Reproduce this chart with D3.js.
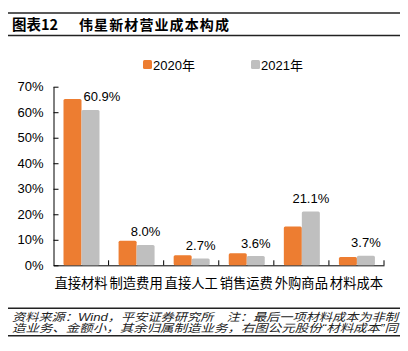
<!DOCTYPE html>
<html lang="zh">
<head>
    <meta charset="UTF-8">
    <title>伟星新材营业成本构成</title>
    <script src="https://d3js.org/d3.v7.min.js"></script>
    <style>
        body {
            margin: 0;
            background: #fff;
            font-family: "Liberation Sans", Arial, "Noto Sans CJK SC", sans-serif;
        }
        svg text {
            fill: #000;
        }
        .axis path, .axis line {
            stroke: #000;
            stroke-width: 1;
        }
        .axis text {
            font-size: 13px;
            font-family: "Liberation Sans", Arial, "Noto Sans CJK SC", sans-serif;
        }
        .note {
            font-size: 11px;
            font-style: italic;
        }
    </style>
</head>
<body>
    <svg width="408" height="351"></svg>
    <script>
        // 数据
        const categories = ["直接材料", "制造费用", "直接人工", "销售运费", "外购商品", "材料成本"];
        const series = ["2020年", "2021年"];
        const values2020 = [65.2, 9.6, 3.9, 4.7, 15.2, 3.3];
        const values2021 = [60.9, 8.0, 2.7, 3.6, 21.1, 3.7];
        const yTicks = [0, 10, 20, 30, 40, 50, 60, 70];
        const colors = ["#ED7D31", "#BFBFBF"];

        const data = categories.map((c, i) => ({
            cat: c,
            vals: [values2020[i], values2021[i]]
        }));

        const svg = d3.select("svg");

        // 标题
        svg.append("line").attr("x1", 8).attr("x2", 400).attr("y1", 13).attr("y2", 13)
            .attr("stroke", "#222").attr("stroke-width", 1.5);
        svg.append("line").attr("x1", 8).attr("x2", 400).attr("y1", 35.5).attr("y2", 35.5)
            .attr("stroke", "#222").attr("stroke-width", 1.5);
        svg.append("text")
            .attr("x", 12).attr("y", 30)
            .style("font-size", "14.5px").style("font-weight", "bold")
            .style("font-family", "'Noto Sans CJK SC', sans-serif")
            .text("图表12");
        svg.append("text")
            .attr("x", 79).attr("y", 30)
            .style("font-size", "14px").style("font-weight", "bold")
            .style("letter-spacing", "1.1px")
            .style("font-family", "'Noto Sans CJK SC', sans-serif")
            .text("伟星新材营业成本构成");

        // 绘图区
        const plotLeft = 53.5, plotRight = 384, plotTop = 86.7, plotBottom = 265.3;

        const y = d3.scaleLinear().domain([0, 70]).range([plotBottom, plotTop]);
        const x0 = d3.scaleBand().domain(categories).range([plotLeft, plotRight]);
        const x1 = d3.scaleBand().domain(series).range([10, 46]);

        // y 轴
        svg.append("g")
            .attr("class", "axis")
            .attr("transform", `translate(${plotLeft},0)`)
            .call(d3.axisLeft(y)
                .tickValues(yTicks)
                .tickFormat(d => d + "%")
                .tickSizeInner(-5)
                .tickSizeOuter(0)
                .tickPadding(10));

        // x 轴
        const xAxis = svg.append("g")
            .attr("class", "axis")
            .attr("transform", `translate(0,${plotBottom})`)
            .call(d3.axisBottom(x0).tickSize(0).tickPadding(13));
        xAxis.selectAll(".tick text")
            .style("font-family", "'Noto Sans CJK SC', sans-serif")
            .style("font-size", "13.3px");
        xAxis.selectAll(".boundary")
            .data(categories)
            .enter()
            .append("line")
            .attr("class", "boundary")
            .attr("x1", d => x0(d) + x0.bandwidth())
            .attr("x2", d => x0(d) + x0.bandwidth())
            .attr("y1", 0).attr("y2", -5);

        // 柱子
        const groups = svg.selectAll(".grp")
            .data(data)
            .enter()
            .append("g")
            .attr("class", "grp")
            .attr("transform", d => `translate(${x0(d.cat)},0)`);

        groups.selectAll("rect")
            .data(d => d.vals.map((v, i) => ({ s: series[i], v: v, i: i })))
            .enter()
            .append("rect")
            .attr("x", d => x1(d.s))
            .attr("y", d => y(d.v))
            .attr("width", x1.bandwidth())
            .attr("height", d => plotBottom - y(d.v))
            .attr("rx", 1.5)
            .attr("fill", d => colors[d.i]);

        // 数据标签 (2021年)
        groups.append("text")
            .attr("class", "vlabel")
            .style("font-size", "13px")
            .attr("text-anchor", "middle")
            .attr("y", d => y(d.vals[1]) - 8.5)
            .text(d => d.vals[1].toFixed(1) + "%")
            .attr("x", function(d) {
                let cx = x1(series[1]) + x1.bandwidth() / 2;
                const w = this.getComputedTextLength();
                const labelBottom = y(d.vals[1]) - 8.5;
                // 避开2020年柱子
                if (labelBottom > y(d.vals[0])) {
                    const orangeRight = x1(series[0]) + x1.bandwidth();
                    cx = Math.max(cx, orangeRight + 2 + w / 2);
                }
                return cx;
            });

        // 图例
        const legend = svg.selectAll(".legend")
            .data(series)
            .enter()
            .append("g")
            .attr("class", "legend")
            .attr("transform", (d, i) => `translate(${143 + i * 108},60)`);
        legend.append("rect")
            .attr("width", 9).attr("height", 9).attr("rx", 1.5)
            .attr("fill", (d, i) => colors[i]);
        legend.append("text")
            .attr("x", 10).attr("y", 9.5)
            .style("font-size", "13px")
            .text(d => d);

        // 注释
        svg.append("line").attr("x1", 8).attr("x2", 400).attr("y1", 308.3).attr("y2", 308.3)
            .attr("stroke", "#222").attr("stroke-width", 1.5);
        svg.append("line").attr("x1", 8).attr("x2", 400).attr("y1", 335.8).attr("y2", 335.8)
            .attr("stroke", "#222").attr("stroke-width", 1.5);
        const notes = [
            "资料来源：Wind，平安证券研究所　注：最后一项材料成本为非制",
            "造业务、金额小，其余归属制造业务，右图公元股份“材料成本”同"
        ];
        svg.selectAll(".note")
            .data(notes)
            .enter()
            .append("text")
            .attr("class", "note")
            .attr("x", 12)
            .attr("y", (d, i) => 321.3 + i * 10.6)
            .attr("textLength", 386)
            .attr("lengthAdjust", "spacingAndGlyphs")
            .style("fill", "#222")
            .text(d => d);
    </script>
</body>
</html>
